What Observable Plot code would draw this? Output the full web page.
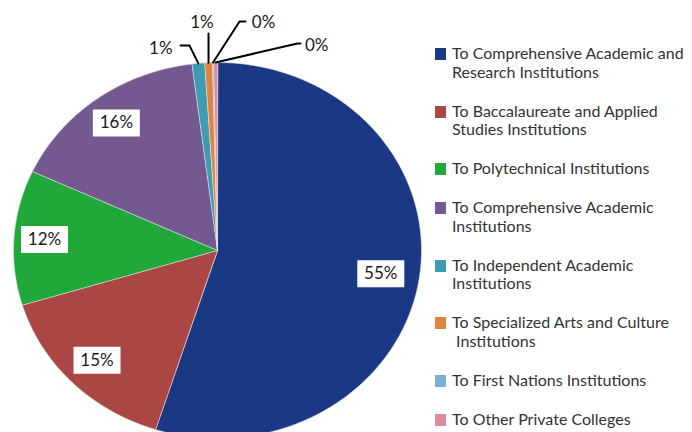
<!DOCTYPE html>
<html><head><meta charset="utf-8">
<script src="https://cdn.jsdelivr.net/npm/d3@7"></script>
<script src="https://cdn.jsdelivr.net/npm/@observablehq/plot@0.6"></script>
<style>
body{margin:0;background:#fff;font-family:Lato,"Open Sans",sans-serif;}
#wrap{position:relative;width:692px;height:432px;overflow:hidden;}
#legend{position:absolute;left:435px;top:44px;}
.item{display:flex;align-items:flex-start;margin-bottom:20.5px;font-size:16px;line-height:18.5px;color:#333;white-space:pre;}
.sw{width:11px;height:12px;margin-top:4px;margin-right:6px;flex:none;}
</style></head><body><div id="wrap"><div id="legend"></div></div>
<script>
// Legend labels (line breaks as shown in the reference legend)
const legendLabels = [
  "To Comprehensive Academic and\nResearch Institutions",
  "To Baccalaureate and Applied\nStudies Institutions",
  "To Polytechnical Institutions",
  "To Comprehensive Academic\nInstitutions",
  "To Independent Academic\nInstitutions",
  "To Specialized Arts and Culture\n Institutions",
  "To First Nations Institutions",
  "To Other Private Colleges"
];
// Share of total (%)
const values = [54.9, 15.4, 11.6, 16.1, 1.0, 0.6, 0.1, 0.3];
const colors = ["#1b3884", "#aa4744", "#21a83b", "#735990", "#3e9bb2", "#df853f", "#7bafd4", "#e08aa0"];

// Label layout for the tiny slices (elbow/end of leader, text centre), in pie-radius units
const smallLayout = [
  {i: 4, elbow: [-0.137, 1.090], end: [-0.181, 1.090], text: [-0.278, 1.072]},
  {i: 5, elbow: [-0.044, 1.154], end: [-0.044, 1.154], text: [-0.076, 1.213]},
  {i: 6, elbow: [0.108, 1.218], end: [0.137, 1.218], text: [0.226, 1.213]},
  {i: 7, elbow: [0.392, 1.101], end: [0.407, 1.101], text: [0.486, 1.090]}
];

const categories = legendLabels.map(s => s.replace(/\n\s*/, " "));
const rows = categories.map((c, i) => ({category: c, value: values[i]}));
const arcs = d3.pie().sort(null).value(d => d.value)(rows);

const slicePts = arcs.flatMap(a => {
  const n = Math.max(2, Math.ceil((a.endAngle - a.startAngle) / 0.01));
  const pts = [{category: a.data.category, x: 0, y: 0}];
  for (let k = 0; k <= n; k++) {
    const t = a.startAngle + (a.endAngle - a.startAngle) * k / n;
    pts.push({category: a.data.category, x: Math.sin(t), y: Math.cos(t)});
  }
  return pts;
});

const labelR = [0.81, 0.83, 0.85, 0.84];
const bigLabels = arcs.filter(a => a.data.value >= 5).map((a, j) => {
  const m = (a.startAngle + a.endAngle) / 2;
  return {x: labelR[j] * Math.sin(m), y: labelR[j] * Math.cos(m), text: Math.round(a.data.value) + "%"};
});

const leaderPts = smallLayout.flatMap(L => {
  const a = arcs[L.i];
  const m = (a.startAngle + a.endAngle) / 2;
  return [
    {k: L.i, x: Math.sin(m), y: Math.cos(m)},
    {k: L.i, x: L.elbow[0], y: L.elbow[1]},
    {k: L.i, x: L.end[0], y: L.end[1]}
  ];
});
const smallText = smallLayout.map(L => ({x: L.text[0], y: L.text[1], text: Math.round(arcs[L.i].data.value) + "%"}));

const boxSymbol = {draw(ctx) { ctx.rect(-23.5, -13.5, 47, 27); }};

const chart = Plot.plot({
  width: 692, height: 432,
  margin: 0,
  style: {fontFamily: "Lato, 'Open Sans', sans-serif", background: "transparent"},
  x: {domain: [-1, 1], range: [13, 421], axis: null},
  y: {domain: [-1, 1], range: [438, 62], axis: null},
  color: {domain: categories, range: colors},
  marks: [
    Plot.line(slicePts, {x: "x", y: "y", z: "category", fill: "category", stroke: "#e8e8e8", strokeWidth: 0.6, curve: "linear-closed"}),
    Plot.dot(bigLabels, {x: "x", y: "y", symbol: boxSymbol, fill: "white", stroke: null, r: 10}),
    Plot.text(bigLabels, {x: "x", y: "y", text: "text", fontSize: 17, fill: "#1a1a1a"}),
    Plot.line(leaderPts, {x: "x", y: "y", z: "k", stroke: "black", strokeWidth: 2}),
    Plot.text(smallText, {x: "x", y: "y", text: "text", fontSize: 17, fill: "#1a1a1a"})
  ]
});
const wrap = document.getElementById("wrap");
wrap.insertBefore(chart, wrap.firstChild);

const legend = document.getElementById("legend");
legendLabels.forEach((lab, i) => {
  const it = document.createElement("div");
  it.className = "item";
  const sw = document.createElement("span");
  sw.className = "sw";
  sw.style.background = colors[i];
  const tx = document.createElement("span");
  tx.textContent = lab;
  it.appendChild(sw); it.appendChild(tx);
  legend.appendChild(it);
});
</script>
</body></html>
